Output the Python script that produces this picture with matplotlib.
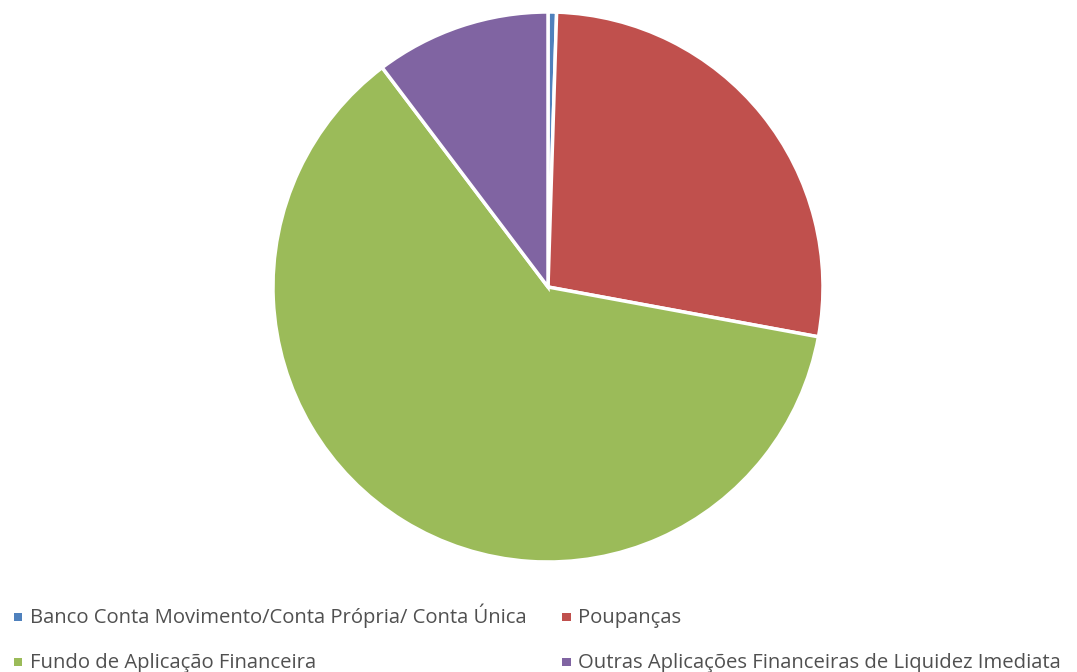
import matplotlib.pyplot as plt
from matplotlib.patches import Rectangle

# data
labels = ['Banco Conta Movimento/Conta Própria/ Conta Única',
          'Poupanças',
          'Fundo de Aplicação Financeira',
          'Outras Aplicações Financeiras de Liquidez Imediata']
shares = [0.5, 27.4, 61.8, 10.3]
colors = ['#4F81BD', '#C0504D', '#9BBB59', '#8064A2']

plt.rcParams['font.family'] = ['Open Sans', 'DejaVu Sans']

fig = plt.figure(figsize=(10.77, 6.72), dpi=100)
W, H = 1077, 672
cx, cy, r = 548, 287, 275
ax = fig.add_axes([(cx - r) / W, (H - cy - r) / H, 2 * r / W, 2 * r / H])
ax.pie(shares, colors=colors, startangle=90, counterclock=False,
       wedgeprops=dict(edgecolor='white', linewidth=2.5))
ax.set_xlim(-1, 1)
ax.set_ylim(-1, 1)
ax.set_aspect('equal')
ax.axis('off')

# legend laid out like the original: two rows, two columns
col_x = [14, 562]      # marker left edge, px
row_base = [623, 668]  # text baseline, px
box = 8.5
for i, (lab, c) in enumerate(zip(labels, colors)):
    col, row = i % 2, i // 2
    x0, yb = col_x[col], row_base[row]
    fig.patches.append(Rectangle((x0 / W, (H - yb + 2) / H), box / W, box / H,
                                 transform=fig.transFigure, facecolor=c,
                                 edgecolor='none'))
    fig.text((x0 + 16) / W, (H - yb) / H, lab, fontsize=14.6,
             color='#505050', va='baseline', ha='left')

fig.savefig('out.png', dpi=100)
